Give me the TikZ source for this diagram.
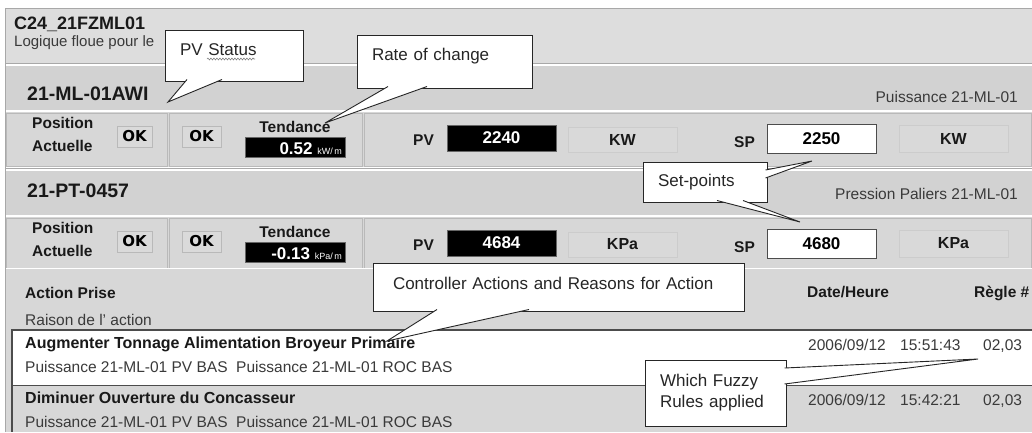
\documentclass[tikz,border=0pt]{standalone}
\usepackage{fontspec}
\setmainfont{Liberation Sans}
\newfontfamily\okfamily{DejaVu Sans}
\usetikzlibrary{calc,decorations.pathmorphing}

\definecolor{headgray}{HTML}{DDDDDD}
\definecolor{bandgray}{HTML}{D2D2D2}
\definecolor{cellgray}{HTML}{D7D7D7}
\definecolor{unitgray}{HTML}{D9D9D9}
\definecolor{okgray}{HTML}{DADADA}
\definecolor{linegray}{HTML}{A8A8A8}
\definecolor{textgray}{HTML}{3A3A3A}

\newcommand{\guitext}{\fontsize{15.5}{18}\selectfont}
\newcommand{\guibold}{\fontsize{15.5}{18}\selectfont\bfseries}
\newcommand{\tagfont}{\fontsize{19.5}{22}\selectfont\bfseries}
\newcommand{\valfont}{\fontsize{17}{20}\selectfont\bfseries}
\newcommand{\unitfont}{\fontsize{16}{19}\selectfont\bfseries}
\newcommand{\callfont}{\fontsize{17}{21}\selectfont}
\newcommand{\okfont}{\okfamily\fontsize{15}{17}\selectfont\bfseries}

\begin{document}
\begin{tikzpicture}[x=1pt, y=-1pt,
	callbox/.style={draw=black!85, fill=white, line width=0.9, outer sep=0, anchor=north west, align=left, font=\callfont, text=black!85},
	ptr/.style={draw=black!85, fill=white, line width=0.9},
	lbl/.style={anchor=base west, inner sep=0, font=\guibold, text=black!90},
	txt/.style={anchor=base west, inner sep=0, font=\guitext, text=textgray},
	okbox/.style={draw=gray!55, fill=okgray, minimum height=21, inner sep=0, font=\okfont},
	darkbox/.style={fill=black, draw=black!60, text=white, inner sep=0, font=\valfont},
	unitbox/.style={draw=gray!40, fill=unitgray, minimum width=109, inner sep=0, font=\unitfont, text=black!90},
	spbox/.style={draw=black!70, line width=0.9, fill=white, minimum width=109, minimum height=29, inner sep=0, font=\valfont},
	cellline/.style={draw=gray!55, line width=0.8},
	hiline/.style={white, line width=1.2},
	loline/.style={linegray, line width=1},
	]

	\useasboundingbox (0,0) rectangle (1032,432);
	\fill[white] (0,0) rectangle (1032,432);

	% window header
	\fill[headgray] (5,8) rectangle (1032,64);
	\node[lbl, font=\fontsize{18}{20}\selectfont\bfseries] (title) at (14,29) {C24\_21FZML01};
	\node[txt, font=\fontsize{15}{18}\selectfont] (subtitle) at (14,46) {Logique floue pour le};

	% one band and one control row per measurement
	\foreach \i/\y/\ty/\tagname/\desc/\roc/\unit/\pv/\spv/\eu in {
		1/0/0/21-ML-01AWI/Puissance 21-ML-01/0.52/kW/2240/2250/KW,
		2/105/97/21-PT-0457/Pression Paliers 21-ML-01/-0.13/kPa/4684/4680/KPa}{
		\fill[bandgray] (5,65+\y) rectangle (1032,110+\y);
		\draw[loline] (5,63.5+\y) -- (1032,63.5+\y);
		\draw[hiline] (5,65.5+\y) -- (1032,65.5+\y);
		\fill[cellgray] (5,111+\y) rectangle (1032,167+\y);
		\draw[hiline] (5,111.5+\y) -- (1032,111.5+\y);
		\draw[cellline] (6,113+\y) rectangle (167,166+\y)
			(169,113+\y) rectangle (362,166+\y)
			(364,113+\y) rectangle (1031,166+\y);

		\node[lbl, font=\tagfont] (tag\i) at (27,100+\ty) {\tagname};
		\node[txt, anchor=base east] (desc\i) at (1018,102+\ty) {\desc};

		\node[lbl] (pos\i) at (32,128+\y) {Position};
		\node[lbl] (act\i) at (32,151+\y) {Actuelle};
		\node[okbox, minimum width=35] (okpos\i) at (134.5,136.5+\y) {OK};
		\node[okbox, minimum width=39] (okpv\i) at (201.5,136.5+\y) {OK};

		\node[lbl, anchor=base] (tend\i) at (295,132+\y) {Tendance};
		\node[darkbox, minimum width=100, minimum height=20] (roc\i) at (295,147+\y) {};
		\node[anchor=base east, inner sep=0, text=white, font=\valfont] (rocval\i) at (342,154+\y)
			{\roc\ {\fontsize{9}{10}\selectfont\mdseries\unit/\,m}};

		\node[lbl] (pvlbl\i) at (413,145+\y) {PV};
		\node[darkbox, minimum width=109, minimum height=26] (pv\i) at (501.5,138+\y) {\pv};
		\node[unitbox, minimum height=25] (eupv\i) at (622.5,139.5+\y) {\eu};
		\node[lbl] (splbl\i) at (734,147+\y) {SP};
		\node[spbox] (sp\i) at (821.5,138.5+\y) {\spv};
		\node[unitbox, minimum height=27] (eusp\i) at (953.5,138.5+\y) {\eu};
	}

	% action log
	\fill[cellgray] (5,268) rectangle (1032,432);
	\draw[hiline] (5,268.5) -- (1032,268.5);
	\node[lbl] (actionhd) at (25,298) {Action Prise};
	\node[txt] (reasonhd) at (25,325) {Raison de l' action};
	\node[lbl] (datehd) at (807,297) {Date/Heure};
	\node[lbl] (rulehd) at (974,297) {Règle \#};

	\fill[white] (12,330) rectangle (1032,385);

	\foreach \j/\y/\act/\stamp in {
		1/0/Augmenter Tonnage Alimentation Broyeur Primaire/15:51:43,
		2/55/Diminuer Ouverture du Concasseur/15:42:21}{
		\node[lbl, font=\fontsize{16}{19}\selectfont\bfseries] (logact\j) at (25,348+\y) {\act};
		\node[txt] (logwhy\j) at (25,372+\y) {Puissance 21-ML-01 PV BAS\ \ Puissance 21-ML-01 ROC BAS};
		\node[txt] (logdate\j) at (808,350+\y) {2006/09/12};
		\node[txt] (logtime\j) at (900,350+\y) {\stamp};
		\node[txt] (logrule\j) at (983,350+\y) {02,03};
	}
	\draw[black!70, line width=1.2] (1032,330) -| (12,432) (12,385.5) -- (1032,385.5);

	% window frame
	\draw[loline] (5,432) |- (1032,8);

	% callouts
	\coordinate (pvstip) at (168,102);
	\coordinate (roctip) at (325,123);
	\coordinate (sptipa) at (812,161);
	\coordinate (sptipb) at (800,222);
	\coordinate (ctrltip) at (387,341);
	\coordinate (ruletip) at (978,359);

	\node[callbox, minimum width=138, minimum height=51, text width=108, inner xsep=15, text depth=12] (pvstat) at (165,30) {PV Status};
	\filldraw[ptr] ($(pvstat.south west)+(22,-1.5)$) -- (pvstip) -- ($(pvstat.south west)+(57,-1.5)$);
	\draw[gray, line width=0.6, decorate, decoration={snake, amplitude=0.9, segment length=3}]
		($(pvstat.north west)+(42,29)$) -- ++(48,0);

	\node[callbox, minimum width=175, minimum height=53, text width=145, inner xsep=15, text depth=15] (rate) at (357,35) {Rate of change};
	\filldraw[ptr] ($(rate.south west)+(31,-1.5)$) -- (roctip) -- ($(rate.south west)+(70,-1.5)$);

	\node[callbox, minimum width=124, minimum height=40, text width=94, inner xsep=15] (setpt) at (643,162) {Set-points};
	\filldraw[ptr] ($(setpt.north east)+(-1.5,8)$) -- (sptipa) -- ($(setpt.north east)+(-1.5,16)$);
	\filldraw[ptr] ($(setpt.south west)+(74,-1.5)$) -- (sptipb) -- ($(setpt.south west)+(100,-1.5)$);

	\node[callbox, minimum width=371, minimum height=48, text width=331, inner xsep=20, text depth=8] (ctrl) at (373,263) {Controller Actions and Reasons for Action};
	\filldraw[ptr] ($(ctrl.south west)+(64,-1.5)$) -- (ctrltip) -- ($(ctrl.south west)+(156,-1.5)$);

	\node[callbox, minimum width=141, minimum height=66, text width=111, inner xsep=15] (fuzzy) at (645,360) {Which Fuzzy\\Rules applied};
	\filldraw[ptr] ($(fuzzy.north east)+(-1.5,8)$) -- (ruletip) -- ($(fuzzy.north east)+(-1.5,24)$);

\end{tikzpicture}
\end{document}
